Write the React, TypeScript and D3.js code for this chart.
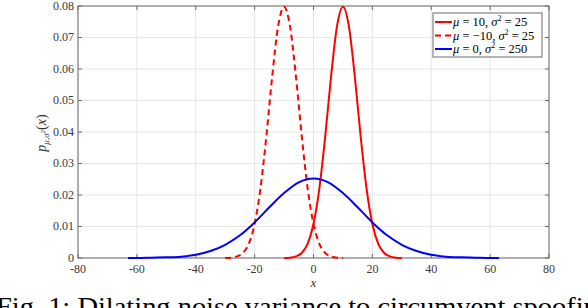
import React, { useEffect, useRef } from "react";
import * as d3 from "d3";

// values
const redX = [-10, -8, -6, -4, -2, 0, 2, 4, 6, 8, 10, 12, 14, 16, 18, 20, 22, 24, 26, 28, 30];
const redSolid = [0.0, 0.0001, 0.0005, 0.0016, 0.0045, 0.0108, 0.0222, 0.0388, 0.0579, 0.0737, 0.0798,
    0.0737, 0.0579, 0.0388, 0.0222, 0.0108, 0.0045, 0.0016, 0.0005, 0.0001, 0.0];
const dashedX = [-30, -28, -26, -24, -22, -20, -18, -16, -14, -12, -10, -8, -6, -4, -2, 0, 2, 4, 6, 8, 10];
const redDashed = [0.0, 0.0001, 0.0005, 0.0016, 0.0045, 0.0108, 0.0222, 0.0388, 0.0579, 0.0737, 0.0798,
    0.0737, 0.0579, 0.0388, 0.0222, 0.0108, 0.0045, 0.0016, 0.0005, 0.0001, 0.0];
const blueX = [-63, -60, -55, -50, -45, -40, -35, -30, -25, -20, -15, -10, -5, 0, 5, 10, 15, 20, 25, 30, 35, 40, 45, 50, 55, 60, 63];
const blueVals = [0.0, 0.0, 0.0001, 0.0002, 0.0004, 0.0010, 0.0022, 0.0042, 0.0072, 0.0113, 0.0161, 0.0206, 0.0240, 0.0252,
    0.0240, 0.0206, 0.0161, 0.0113, 0.0072, 0.0042, 0.0022, 0.0010, 0.0004, 0.0002, 0.0001, 0.0, 0.0];

const xTicks = [-80, -60, -40, -20, 0, 20, 40, 60, 80];
const yTicks = [0, 0.01, 0.02, 0.03, 0.04, 0.05, 0.06, 0.07, 0.08];
const legendLabels = [
    { mu: "10", s2: "25" },
    { mu: "\u221210", s2: "25" },
    { mu: "0", s2: "250" },
];

const W = 588;
const H = 308;
const serif = "'Liberation Serif', 'DejaVu Serif', serif";

export default function App() {
    const ref = useRef<SVGSVGElement>(null);

    useEffect(() => {
        const svg = d3.select(ref.current);
        svg.selectAll("*").remove();

        const left = 78, right = 549, top = 6, bottom = 258;
        const x = d3.scaleLinear().domain([-80, 80]).range([left, right]);
        const y = d3.scaleLinear().domain([0, 0.08]).range([bottom, top]);

        svg.append("rect").attr("x", 0).attr("y", 0).attr("width", W).attr("height", H).attr("fill", "#fff");

        // grid
        const grid = svg.append("g").attr("stroke", "#e5e5e5").attr("stroke-width", 1);
        xTicks.forEach(t => {
            grid.append("line").attr("x1", x(t)).attr("x2", x(t)).attr("y1", top).attr("y2", bottom);
        });
        yTicks.forEach(t => {
            grid.append("line").attr("x1", left).attr("x2", right).attr("y1", y(t)).attr("y2", y(t));
        });

        // box with inward ticks
        const axisColor = "#6b6b6b";
        const box = svg.append("g").attr("stroke", axisColor).attr("stroke-width", 1).attr("fill", "none");
        box.append("rect").attr("x", left).attr("y", top).attr("width", right - left).attr("height", bottom - top);
        xTicks.forEach(t => {
            box.append("line").attr("x1", x(t)).attr("x2", x(t)).attr("y1", bottom).attr("y2", bottom - 4);
            box.append("line").attr("x1", x(t)).attr("x2", x(t)).attr("y1", top).attr("y2", top + 4);
        });
        yTicks.forEach(t => {
            box.append("line").attr("x1", left).attr("x2", left + 4).attr("y1", y(t)).attr("y2", y(t));
            box.append("line").attr("x1", right).attr("x2", right - 4).attr("y1", y(t)).attr("y2", y(t));
        });

        // tick labels
        svg.append("g").selectAll("text").data(xTicks).enter().append("text")
            .attr("x", d => x(d)).attr("y", 273)
            .attr("text-anchor", "middle")
            .attr("font-family", serif).attr("font-size", 12).attr("fill", "#3a3a3a")
            .text(d => (d < 0 ? "-" + Math.abs(d) : String(d)));
        svg.append("g").selectAll("text").data(yTicks).enter().append("text")
            .attr("x", 74).attr("y", d => y(d) + 3.5)
            .attr("text-anchor", "end")
            .attr("font-family", serif).attr("font-size", 12).attr("fill", "#3a3a3a")
            .text(d => (d === 0 ? "0" : d3.format(".2f")(d)));

        // axis labels
        svg.append("text").attr("x", x(0)).attr("y", 287).attr("text-anchor", "middle")
            .attr("font-family", serif).attr("font-style", "italic").attr("font-size", 13).attr("fill", "#333")
            .text("x");
        const yl = svg.append("text")
            .attr("transform", "translate(46,133) rotate(-90)")
            .attr("text-anchor", "middle")
            .attr("font-family", serif).attr("font-size", 14).attr("fill", "#333");
        yl.append("tspan").attr("font-style", "italic").text("p");
        yl.append("tspan").attr("font-style", "italic").attr("font-size", 9).attr("dy", 3).text("\u03bc,\u03c3");
        yl.append("tspan").attr("font-size", 7).attr("dy", -4).text("2");
        yl.append("tspan").attr("dy", 1).text("(");
        yl.append("tspan").attr("font-style", "italic").text("x");
        yl.append("tspan").text(")");

        // curves
        const line = d3.line<[number, number]>()
            .x(d => x(d[0])).y(d => y(d[1]))
            .curve(d3.curveMonotoneX);
        svg.append("path").datum(d3.zip(dashedX, redDashed) as [number, number][])
            .attr("d", line).attr("fill", "none").attr("stroke", "#ff0000")
            .attr("stroke-width", 2).attr("stroke-dasharray", "6,4");
        svg.append("path").datum(d3.zip(redX, redSolid) as [number, number][])
            .attr("d", line).attr("fill", "none").attr("stroke", "#ff0000").attr("stroke-width", 2);
        svg.append("path").datum(d3.zip(blueX, blueVals) as [number, number][])
            .attr("d", line).attr("fill", "none").attr("stroke", "#0000ff").attr("stroke-width", 2);

        // legend
        const lg = svg.append("g");
        lg.append("rect").attr("x", 433).attr("y", 13).attr("width", 109).attr("height", 44)
            .attr("fill", "#fff").attr("stroke", "#6b6b6b").attr("stroke-width", 1);
        const styles = [
            { color: "#ff0000", dash: null },
            { color: "#ff0000", dash: "6,4" },
            { color: "#0000ff", dash: null },
        ];
        legendLabels.forEach((l, i) => {
            const ly = 22 + i * 13.5;
            lg.append("line").attr("x1", 435).attr("x2", 452).attr("y1", ly).attr("y2", ly)
                .attr("stroke", styles[i].color).attr("stroke-width", 2)
                .attr("stroke-dasharray", styles[i].dash);
            const t = lg.append("text").attr("x", 453).attr("y", ly + 4)
                .attr("font-family", serif).attr("font-size", 12.5).attr("fill", "#000");
            t.append("tspan").attr("font-style", "italic").text("\u03bc");
            t.append("tspan").text(" = " + l.mu + ", ");
            t.append("tspan").attr("font-style", "italic").text("\u03c3");
            t.append("tspan").attr("font-size", 8).attr("dy", -5).text("2");
            t.append("tspan").attr("dy", 5).text(" = " + l.s2);
        });

        // caption (cut off by the frame)
        svg.append("text").attr("x", -4).attr("y", 315)
            .attr("font-family", serif).attr("font-size", 25).attr("fill", "#000")
            .attr("textLength", 616).attr("lengthAdjust", "spacingAndGlyphs")
            .text("Fig. 1: Dilating noise variance to circumvent spoofing");
    }, []);

    return (
        <svg ref={ref} width={W} height={H}
            style={{ position: "absolute", left: 0, top: 0, overflow: "hidden" }} />
    );
}
